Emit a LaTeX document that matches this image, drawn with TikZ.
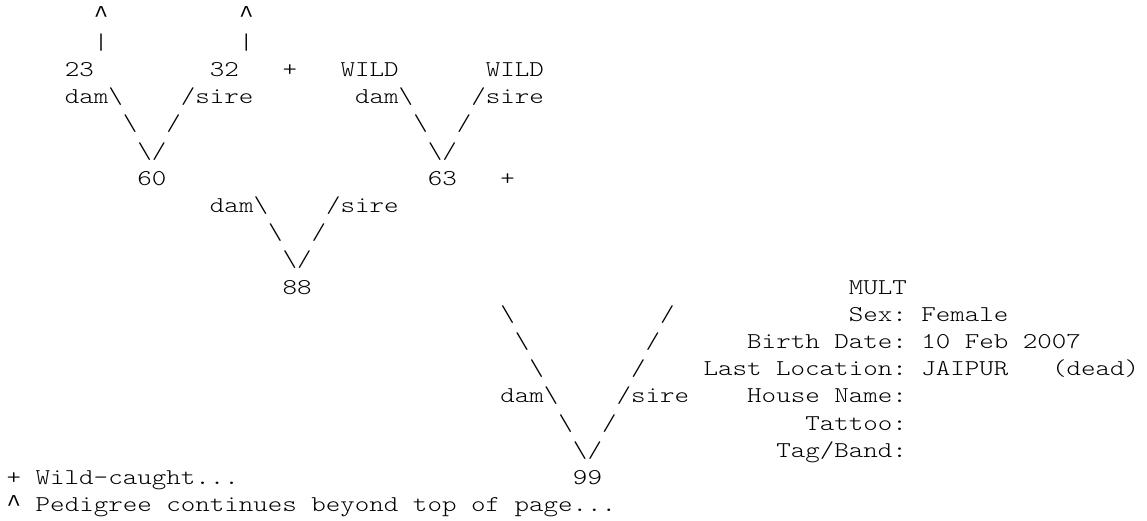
\documentclass[tikz,border=0pt]{standalone}
\usepackage{fontspec}
\newfontfamily\pedfont{lmmonolt10-regular.otf}[FakeStretch=1.223]
\newfontfamily\caretfont{Liberation Mono}

% grid of the text page: column width, line height, offsets
\newcommand{\pedcw}{14.52}
\newcommand{\pedlh}{27.2}
\newcommand{\pedx}{6.5}
\newcommand{\pedy}{22}
\newcommand{\bsl}{\textbackslash}
\newcommand{\pedup}{{\caretfont\fontsize{24.2}{27.2}\selectfont\char"5E}}
% \pedat{name}{row}{column}{text}
\newcommand{\pedat}[4]{\node[ped] (#1) at ({\pedx+#3*\pedcw},{-\pedy-#2*\pedlh}) {#4};}

\begin{document}
\begin{tikzpicture}[x=1pt,y=1pt,
  ped/.style={inner sep=0pt,anchor=base west,text=black,
    font=\pedfont\fontsize{22.6}{27.2}\selectfont\frenchspacing}]
\useasboundingbox (0,0) rectangle (1147,-520);

% Step 1: great-grandparents
\pedat{upA}{0}{6}{\pedup}
\pedat{upB}{0}{16}{\pedup}
\pedat{barA}{1}{6}{\textbar}
\pedat{barB}{1}{16}{\textbar}
\pedat{n23}{2}{4}{23}
\pedat{n32}{2}{14}{32}
\pedat{plusA}{2}{19}{+}
\pedat{wildA}{2}{23}{WILD}
\pedat{wildB}{2}{33}{WILD}

% Step 2: grandparents
\pedat{damA}{3}{4}{dam\bsl}
\pedat{sireA}{3}{12}{/sire}
\pedat{damB}{3}{24}{dam\bsl}
\pedat{sireB}{3}{32}{/sire}
\pedat{lA}{4}{8}{\bsl}
\pedat{rA}{4}{11}{/}
\pedat{lB}{4}{28}{\bsl}
\pedat{rB}{4}{31}{/}
\pedat{vA}{5}{9}{\bsl/}
\pedat{vB}{5}{29}{\bsl/}
\pedat{n60}{6}{9}{60}
\pedat{n63}{6}{29}{63}
\pedat{plusB}{6}{34}{+}

% Step 3: parents
\pedat{damC}{7}{14}{dam\bsl}
\pedat{sireC}{7}{22}{/sire}
\pedat{lC}{8}{18}{\bsl}
\pedat{rC}{8}{21}{/}
\pedat{vC}{9}{19}{\bsl/}
\pedat{n88}{10}{19}{88}

% Step 4: the animal
\pedat{lD1}{11}{34}{\bsl}
\pedat{rD1}{11}{45}{/}
\pedat{lD2}{12}{35}{\bsl}
\pedat{rD2}{12}{44}{/}
\pedat{lD3}{13}{36}{\bsl}
\pedat{rD3}{13}{43}{/}
\pedat{damD}{14}{34}{dam\bsl}
\pedat{sireD}{14}{42}{/sire}
\pedat{lD4}{15}{38}{\bsl}
\pedat{rD4}{15}{41}{/}
\pedat{vD}{16}{39}{\bsl/}
\pedat{n99}{17}{39}{99}

% Step 5: record of MULT
\pedat{mult}{10}{58}{MULT}
\pedat{sex}{11}{58}{Sex: Female}
\pedat{birth}{12}{51}{Birth Date: 10 Feb 2007}
\pedat{loc}{13}{48}{Last Location: JAIPUR}
\pedat{dead}{13}{72}{(dead)}
\pedat{house}{14}{51}{House Name:}
\pedat{tattoo}{15}{55}{Tattoo:}
\pedat{tag}{16}{53}{Tag/Band:}

% legend
\pedat{wildkey}{17}{0}{+ Wild-caught...}
\pedat{topkey}{18}{0}{\pedup{} Pedigree continues beyond top of page...}

\end{tikzpicture}
\end{document}
